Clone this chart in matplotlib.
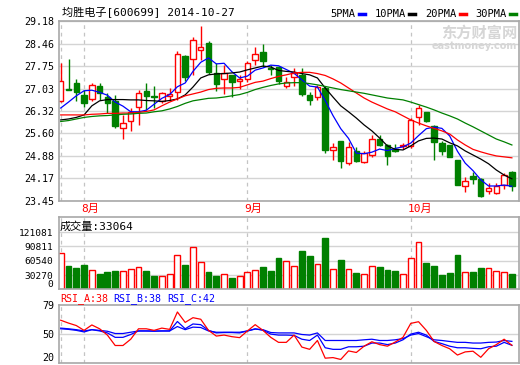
import numpy as np
import matplotlib
matplotlib.use('Agg')
import matplotlib.pyplot as plt
from matplotlib.lines import Line2D

plt.rcParams['font.family'] = ['DejaVu Sans Mono', 'Noto Sans CJK SC']

title = '均胜电子[600699] 2014-10-27'

open_ = [26.63, 27.03, 27.20, 26.82, 26.69, 27.10, 26.75, 26.63, 25.76, 25.99,
         26.43, 26.94, 26.78, 26.63, 26.80, 26.92, 28.07, 27.99, 28.27, 28.49,
         27.53, 27.35, 27.45, 27.26, 27.35, 27.95, 28.20, 27.70, 27.71, 27.10,
         27.39, 27.48, 26.82, 26.77, 27.05, 25.08, 25.35, 24.64, 25.05, 24.68,
         24.92, 25.42, 25.22, 25.10, 25.20, 25.19, 26.12, 26.27, 25.83, 25.30,
         25.22, 24.74, 23.91, 24.23, 24.14, 23.75, 23.68, 23.96, 24.37]
high = [27.85, 27.98, 27.34, 26.97, 27.20, 27.20, 26.90, 26.84, 26.20, 26.41,
        26.97, 27.20, 27.10, 26.92, 27.05, 28.22, 28.09, 28.67, 29.03, 28.54,
        27.85, 27.80, 27.48, 27.48, 27.92, 28.37, 28.46, 27.78, 27.76, 27.39,
        27.69, 27.69, 26.92, 27.16, 27.10, 25.29, 25.35, 25.33, 25.17, 25.03,
        25.54, 25.54, 25.26, 25.26, 25.29, 26.09, 26.50, 26.27, 25.88, 25.37,
        25.24, 24.74, 24.20, 24.37, 24.16, 24.00, 24.00, 24.34, 24.41]
low = [26.60, 26.99, 26.63, 26.43, 26.63, 26.68, 26.25, 25.77, 25.43, 25.69,
       25.88, 26.36, 26.41, 26.56, 26.65, 26.68, 27.26, 27.48, 27.95, 27.50,
       26.94, 26.86, 26.77, 27.03, 27.24, 27.80, 27.73, 27.45, 27.19, 27.04,
       27.10, 26.78, 26.50, 26.68, 24.98, 24.76, 24.48, 24.60, 24.69, 24.66,
       24.84, 25.19, 24.60, 25.01, 25.11, 25.14, 25.86, 25.96, 24.76, 24.92,
       24.84, 23.94, 23.73, 23.97, 23.57, 23.65, 23.65, 23.83, 23.77]
close = [27.26, 27.00, 26.92, 26.58, 27.16, 26.88, 26.56, 25.84, 25.92, 26.27,
         26.88, 26.81, 26.76, 26.90, 26.86, 28.14, 27.41, 28.58, 28.35, 27.56,
         27.19, 27.53, 27.24, 27.34, 27.85, 28.14, 27.90, 27.66, 27.26, 27.23,
         27.54, 26.86, 26.68, 27.07, 25.08, 25.17, 24.73, 25.16, 24.71, 24.98,
         25.42, 25.24, 24.89, 25.05, 25.24, 26.04, 26.41, 25.99, 25.32, 25.05,
         24.84, 23.96, 24.07, 24.15, 23.59, 23.84, 23.93, 24.26, 23.91]
volume = [77400, 49200, 45800, 51900, 41100, 31700, 37700, 39700, 39700, 43100,
          47100, 39700, 27600, 29000, 33000, 73400, 51900, 89500, 57900, 35700,
          27600, 33000, 23600, 29000, 37100, 41100, 47800, 38400, 66000, 59300,
          49200, 82100, 70000, 53200, 108400, 43100, 61900, 43100, 33700, 33000,
          49200, 47800, 41800, 39700, 33000, 67300, 99600, 55900, 49800, 29700,
          33700, 72000, 35700, 37700, 45800, 45100, 39700, 35700, 33064]

ma5 = [26.41, 26.60, 26.80, 26.96, 26.98, 26.91, 26.82, 26.60, 26.47, 26.29,
       26.29, 26.34, 26.53, 26.72, 26.84, 27.09, 27.21, 27.58, 27.87, 28.01,
       27.82, 27.84, 27.57, 27.37, 27.43, 27.62, 27.69, 27.78, 27.76, 27.64,
       27.52, 27.31, 27.11, 27.08, 26.65, 26.17, 25.75, 25.44, 24.97, 24.95,
       25.00, 25.10, 25.05, 25.12, 25.17, 25.29, 25.53, 25.75, 25.80, 25.76,
       25.52, 25.03, 24.65, 24.41, 24.12, 23.92, 23.92, 23.95, 23.91]
ma10 = [26.03, 26.06, 26.11, 26.19, 26.48, 26.64, 26.68, 26.68, 26.68, 26.67,
        26.67, 26.65, 26.64, 26.62, 26.65, 26.70, 26.83, 27.08, 27.37, 27.47,
        27.50, 27.51, 27.53, 27.56, 27.63, 27.69, 27.75, 27.72, 27.61, 27.58,
        27.56, 27.51, 27.47, 27.37, 27.05, 26.76, 26.48, 26.29, 26.09, 25.87,
        25.68, 25.45, 25.20, 25.09, 25.07, 25.20, 25.36, 25.44, 25.45, 25.42,
        25.30, 25.20, 25.04, 24.91, 24.78, 24.63, 24.43, 24.27, 24.15]
ma20 = [26.19, 26.19, 26.19, 26.19, 26.21, 26.22, 26.24, 26.24, 26.25, 26.25,
        26.27, 26.30, 26.35, 26.48, 26.60, 26.70, 26.80, 26.86, 26.92, 27.00,
        27.04, 27.05, 27.05, 27.07, 27.15, 27.23, 27.27, 27.35, 27.42, 27.47,
        27.53, 27.55, 27.55, 27.51, 27.45, 27.34, 27.21, 27.05, 26.89, 26.73,
        26.60, 26.49, 26.38, 26.29, 26.16, 26.03, 25.93, 25.84, 25.76, 25.68,
        25.58, 25.39, 25.23, 25.09, 25.01, 24.94, 24.88, 24.85, 24.82]
ma30 = [25.98, 26.01, 26.06, 26.11, 26.14, 26.16, 26.17, 26.19, 26.21, 26.22,
        26.24, 26.25, 26.29, 26.32, 26.38, 26.46, 26.56, 26.64, 26.68, 26.72,
        26.73, 26.76, 26.80, 26.84, 26.91, 27.00, 27.07, 27.13, 27.18, 27.21,
        27.22, 27.22, 27.19, 27.15, 27.10, 27.05, 27.00, 26.96, 26.92, 26.88,
        26.83, 26.78, 26.73, 26.70, 26.67, 26.60, 26.52, 26.44, 26.35, 26.25,
        26.16, 26.06, 25.93, 25.81, 25.68, 25.55, 25.42, 25.33, 25.23]

rsi_a = [63.5, 60.6, 58.1, 53.2, 58.7, 54.8, 48.4, 37.8, 37.8, 44.2,
         54.8, 54.8, 53.2, 55.5, 54.2, 71.9, 61.3, 66.1, 64.5, 53.2,
         47.4, 48.4, 46.8, 45.8, 52.6, 59.0, 53.2, 46.1, 41.0, 41.0,
         48.4, 36.2, 33.9, 42.9, 24.9, 25.5, 23.6, 32.3, 30.7, 37.1,
         41.6, 38.7, 37.1, 41.3, 46.1, 60.3, 62.0, 53.2, 41.9, 37.8,
         34.5, 28.1, 31.3, 32.0, 25.8, 34.5, 38.7, 44.2, 38.0]
rsi_b = [54.8, 54.2, 53.2, 51.6, 53.9, 52.6, 50.6, 46.1, 46.1, 49.0,
         52.6, 52.6, 52.3, 52.6, 52.6, 62.2, 54.8, 59.7, 59.0, 53.2,
         50.6, 51.0, 51.0, 50.6, 52.6, 54.8, 53.2, 49.4, 48.4, 48.4,
         48.1, 44.2, 42.9, 48.4, 35.5, 33.9, 33.9, 36.5, 36.5, 37.1,
         40.3, 40.3, 38.7, 40.3, 43.6, 49.4, 51.3, 48.4, 41.9, 39.7,
         37.1, 35.5, 35.5, 34.9, 34.5, 36.5, 37.1, 41.0, 38.0]
rsi_c = [55.5, 54.8, 53.9, 52.6, 53.9, 53.2, 52.3, 50.0, 50.0, 51.3,
         52.6, 52.6, 52.6, 52.6, 52.6, 57.1, 53.9, 56.5, 56.1, 52.6,
         51.3, 51.3, 51.3, 51.3, 52.6, 54.5, 53.9, 51.0, 50.6, 50.6,
         50.6, 49.0, 48.4, 50.6, 42.9, 42.9, 42.9, 42.9, 42.9, 43.6,
         44.2, 42.9, 42.9, 43.6, 44.8, 48.4, 50.0, 46.8, 43.6, 42.9,
         41.9, 41.0, 41.0, 40.3, 40.3, 41.0, 41.3, 42.9, 42.0]

month_pos = [3, 24, 45]
month_labels = ['8月', '9月', '10月']
divider_pos = [0, 3, 24, 45]
price_ticks = [23.45, 24.17, 24.88, 25.60, 26.32, 27.03, 27.75, 28.46, 29.18]
vol_ticks = [0, 30270, 60540, 90811, 121081]
rsi_ticks = [20, 50, 79]

RED = '#ff0000'
GREEN = '#008000'
BLUE = '#0000ff'
GRID = '#d4d4d4'
FRAME = '#a8a8a8'

x = np.arange(len(close))
o = np.array(open_)
c = np.array(close)
h = np.array(high)
l = np.array(low)
up = c >= o
lo = np.minimum(o, c)
hi = np.maximum(o, c)
w = 0.7

fig = plt.figure(figsize=(5.2, 3.65), dpi=100)
W, H = 520.0, 365.0
def box(x0, y0, x1, y1):
    return [x0 / W, 1 - y1 / H, (x1 - x0) / W, (y1 - y0) / H]

ax = fig.add_axes(box(58.7, 21.3, 518.5, 200.7))
axv = fig.add_axes(box(58.7, 216.7, 518.5, 289.3))
axr = fig.add_axes(box(58.7, 305, 518.5, 363))

for a in (ax, axv, axr):
    a.set_xlim(-0.26, 58.85)
    a.set_xticks([])
    for s in a.spines.values():
        s.set_color(FRAME)
        s.set_linewidth(1.2)
    a.tick_params(axis='y', length=0, labelsize=7.2, pad=3)
    for p in divider_pos:
        a.axvline(p, color='#c4c4c4', lw=0.9, ls=(0, (3, 3)), zorder=0)

# price panel
ax.set_ylim(23.45, 29.18)
ax.set_yticks(price_ticks)
ax.set_yticklabels(['%.2f' % v for v in price_ticks])
ax.grid(axis='y', color=GRID, lw=1)
ax.set_axisbelow(True)

ax.vlines(x[up], l[up], lo[up], color=RED, lw=1, zorder=2)
ax.vlines(x[up], hi[up], h[up], color=RED, lw=1, zorder=2)
ax.bar(x[up], np.maximum(hi - lo, 0.02)[up], w, bottom=lo[up],
       facecolor='white', edgecolor=RED, lw=1, zorder=2)
ax.vlines(x[~up], l[~up], h[~up], color=GREEN, lw=1, zorder=2)
ax.bar(x[~up], np.maximum(hi - lo, 0.02)[~up], w, bottom=lo[~up],
       facecolor=GREEN, edgecolor=GREEN, lw=1, zorder=2)

lines = []
for ma, col, name in [(ma5, BLUE, '5PMA'), (ma10, 'black', '10PMA'),
                      (ma20, RED, '20PMA'), (ma30, GREEN, '30PMA')]:
    ln, = ax.plot(x, ma, color=col, lw=0.9, zorder=3, label=name)
    lines.append(ln)

leg = ax.legend(handles=[Line2D([], [], color=ln.get_color(), lw=2.5) for ln in lines],
                labels=[ln.get_label() for ln in lines], ncol=4, markerfirst=False,
                loc='lower right', bbox_to_anchor=(1.0, 1.0), frameon=False,
                fontsize=7.5, handlelength=0.6, handletextpad=0.35,
                columnspacing=0.9, borderaxespad=0.1, borderpad=0.1)

for p, lab in zip(month_pos, month_labels):
    ax.annotate(lab, xy=(p, 0), xycoords=('data', 'axes fraction'),
                xytext=(-3, -8), textcoords='offset pixels', color=RED,
                fontsize=8, ha='left', va='center')

ax.text(0.997, 0.935, '东方财富网', transform=ax.transAxes, ha='right', va='center',
        color='#d6d6d6', fontsize=11, fontweight='bold', family='Noto Sans CJK SC')
ax.text(0.997, 0.865, 'eastmoney.com', transform=ax.transAxes, ha='right', va='center',
        color='#d6d6d6', fontsize=7, fontweight='bold', family='DejaVu Sans')

fig.text(62 / W, 1 - 12.5 / H, title, fontsize=8, va='center', ha='left')

# volume panel
axv.set_ylim(0, 154000)
axv.set_yticks(vol_ticks)
axv.set_yticklabels([str(v) for v in vol_ticks])
axv.tick_params(axis='y', labelsize=6.8, pad=4)
axv.get_yticklabels()[0].set_va('bottom')
axv.grid(axis='y', color=GRID, lw=1)
axv.set_axisbelow(True)
vol = np.array(volume)
axv.bar(x[up], vol[up], 0.75, facecolor='white', edgecolor=RED, lw=1, zorder=2)
axv.bar(x[~up], vol[~up], 0.75, facecolor=GREEN, edgecolor=GREEN, lw=1, zorder=2)
axv.text(0.003, 0.87, '成交量:%d' % volume[-1], transform=axv.transAxes,
         fontsize=8, va='center', ha='left')

# RSI panel
axr.set_ylim(20, 79)
axr.set_yticks(rsi_ticks)
axr.set_yticklabels([str(v) for v in rsi_ticks])
axr.get_yticklabels()[0].set_va('bottom')
axr.axhline(50, color=GRID, lw=1, zorder=0)
axr.plot(x, rsi_c, color=BLUE, lw=0.9, zorder=3)
axr.plot(x, rsi_b, color=BLUE, lw=0.9, zorder=3)
axr.plot(x, rsi_a, color=RED, lw=0.9, zorder=4)
for xp, txt, col in [(60, 'RSI_A:%d' % round(rsi_a[-1]), RED),
                     (113, 'RSI_B:%d' % round(rsi_b[-1]), BLUE),
                     (167, 'RSI_C:%d' % round(rsi_c[-1]), BLUE)]:
    fig.text(xp / W, 1 - 299 / H, txt, color=col, fontsize=7.2, va='center', ha='left')

fig.savefig('out.png', dpi=100, facecolor='white')
